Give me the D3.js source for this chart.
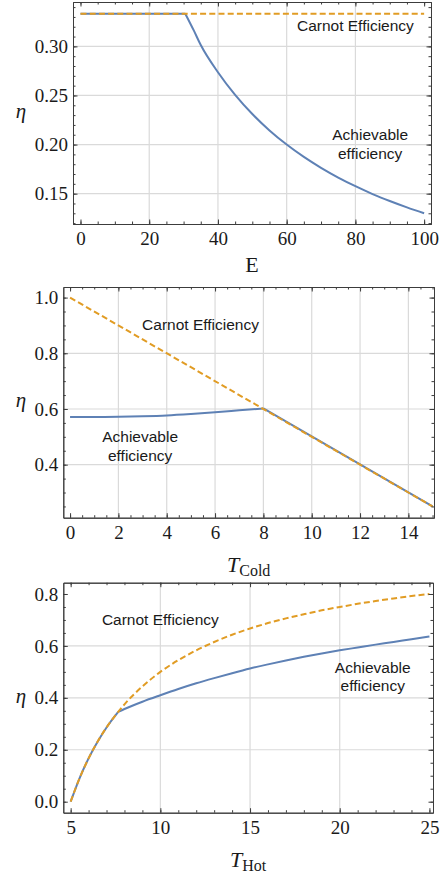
<!DOCTYPE html>
<html lang="en">
<head>
<meta charset="UTF-8">
<title>Efficiency</title>
<script src="https://d3js.org/d3.v7.min.js"></script>
<style>
  body{ margin:0; background:#fff; }
  path.line{ fill:none; stroke-width:2px; }
  path.achievable{ stroke:#5e81b5; }
  path.carnot{ stroke:#e19c24; stroke-dasharray:6,3.2; }
  .grid line{ stroke:#dadada; stroke-width:1.2px; }
  .frame path.domain{ stroke:#3c3c3c; stroke-width:1px; }
  .frame line{ stroke:#3c3c3c; stroke-width:1px; }
  text.note{ font-family:"Liberation Sans", Arial, sans-serif; font-size:15.5px; fill:#1a1a1a; text-anchor:middle; }
  text.lab{ font-family:"Liberation Serif", serif; fill:#1a1a1a; }
</style>
</head>
<body>
<svg width="440" height="878" viewBox="0 0 440 878"></svg>
<script>
// panel 1 : efficiency vs E
const p1_E = [0, 30.5, 33, 35, 40, 45, 50, 55, 60, 65, 70, 75, 80, 85, 90, 95, 100];
const p1_achievable = [0.3333, 0.3333, 0.316, 0.3014, 0.2737, 0.2506, 0.2311, 0.2144, 0.200, 0.1874, 0.1763, 0.1664, 0.1576, 0.1496, 0.1425, 0.136, 0.130];
const p1_carnotE = [0, 100];
const p1_carnot = [0.3333, 0.3333];
const p1_xTicks = [0, 20, 40, 60, 80, 100];
const p1_yTicks = [0.15, 0.20, 0.25, 0.30];

// panel 2 : efficiency vs T cold
const p2_Tc = [0, 1, 2, 3, 4, 5, 6, 7, 8, 15];
const p2_achievable = [0.571, 0.571, 0.572, 0.574, 0.577, 0.582, 0.588, 0.595, 0.602, 0.25];
const p2_carnotT = [0, 15];
const p2_carnot = [1.0, 0.25];
const p2_xTicks = [0, 2, 4, 6, 8, 10, 12, 14];
const p2_yTicks = [0.4, 0.6, 0.8, 1.0];

// panel 3 : efficiency vs T hot
const p3_Th = [5, 5.5, 6, 6.5, 7, 7.65, 8, 9, 10, 11, 12, 13, 14, 15, 16, 17, 18, 19, 20, 21, 22, 23, 24, 25];
const p3_carnot = [0, 0.091, 0.167, 0.231, 0.286, 0.346, 0.375, 0.444, 0.500, 0.545, 0.583, 0.615, 0.643, 0.667, 0.688, 0.706, 0.722, 0.737, 0.750, 0.762, 0.773, 0.783, 0.792, 0.800];
const p3_achievable = [0, 0.091, 0.167, 0.231, 0.286, 0.346, 0.357, 0.385, 0.410, 0.434, 0.456, 0.476, 0.495, 0.513, 0.529, 0.544, 0.558, 0.571, 0.583, 0.594, 0.605, 0.615, 0.626, 0.636];
const p3_xTicks = [5, 10, 15, 20, 25];
const p3_yTicks = [0.0, 0.2, 0.4, 0.6, 0.8];

let svg = d3.select('svg');

let panels = [
  { box:[73, 2, 431, 224], xDom:[-2.18, 102.0], yDom:[0.1191, 0.3452],
    ach:{x:p1_E, y:p1_achievable, kinks:[1]}, car:{x:p1_carnotE, y:p1_carnot},
    xTicks:p1_xTicks, yTicks:p1_yTicks, xGrid:[20,40,60,80], yGrid:[0.15,0.20,0.25,0.30],
    xMinor:d3.range(0, 101, 5), yMinor:d3.range(12, 35).map(d=>d/100), yFmt:d3.format('.2f'),
    carnotAt:[80, 0.3156], achAt:[84.3, 0.2043], xlab:'E', xsub:null },
  { box:[63.3, 287, 434, 517.7], xDom:[-0.28, 15.06], yDom:[0.2096, 1.038],
    ach:{x:p2_Tc, y:p2_achievable, kinks:[8]}, car:{x:p2_carnotT, y:p2_carnot},
    xTicks:p2_xTicks, yTicks:p2_yTicks, xGrid:[2,4,6,8,10,12,14], yGrid:[0.4,0.6,0.8],
    xMinor:d3.range(0, 15.1, 0.5), yMinor:d3.range(5, 21).map(d=>d/20), yFmt:d3.format('.1f'),
    carnotAt:[5.4, 0.884], achAt:[2.9, 0.48], xlab:'T', xsub:'Cold' },
  { box:[63.3, 582.7, 433, 812.7], xDom:[4.59, 25.2], yDom:[-0.0424, 0.8435],
    ach:{x:p3_Th, y:p3_achievable, kinks:[5]}, car:{x:p3_Th, y:p3_carnot},
    xTicks:p3_xTicks, yTicks:p3_yTicks, xGrid:[10,15,20], yGrid:[0.2,0.4,0.6],
    xMinor:d3.range(5, 26, 1), yMinor:d3.range(0, 17).map(d=>d/20), yFmt:d3.format('.1f'),
    carnotAt:[10, 0.682], achAt:[21.84, 0.4975], xlab:'T', xsub:'Hot' }
];

panels.forEach(function(p){
  let [x0, y0, x1, y1] = p.box;
  let xScale = d3.scaleLinear().domain(p.xDom).range([x0, x1]);
  let yScale = d3.scaleLinear().domain(p.yDom).range([y1, y0]);
  let g = svg.append('g');

  // grid
  let grid = g.append('g').attr('class','grid');
  grid.selectAll('line.gx').data(p.xGrid).join('line')
    .attr('class','gx')
    .attr('x1', d=>xScale(d)).attr('x2', d=>xScale(d)).attr('y1', y0).attr('y2', y1);
  grid.selectAll('line.gy').data(p.yGrid).join('line')
    .attr('class','gy')
    .attr('y1', d=>yScale(d)).attr('y2', d=>yScale(d)).attr('x1', x0).attr('x2', x1);

  // lines, split at kinks so the corners stay sharp
  let line = d3.line().x(d=>xScale(d[0])).y(d=>yScale(d[1])).curve(d3.curveMonotoneX);
  let pts = p.ach.x.map((v,i)=>[v, p.ach.y[i]]);
  let cuts = [0].concat(p.ach.kinks, [pts.length-1]);
  for (let i = 0; i < cuts.length-1; i++) {
    g.append('path').attr('class','line achievable')
      .attr('d', line(pts.slice(cuts[i], cuts[i+1]+1)));
  }
  let cpts = p.car.x.map((v,i)=>[v, p.car.y[i]]);
  g.append('path').attr('class','line carnot').attr('d', line(cpts));

  // frame with inward ticks on all sides
  let frame = g.append('g').attr('class','frame');
  let sides = [
    {mk:d3.axisBottom, s:xScale, t:`translate(0,${y1})`, maj:p.xTicks, min:p.xMinor, lab:true, fmt:d3.format('d'), pad:8},
    {mk:d3.axisTop, s:xScale, t:`translate(0,${y0})`, maj:p.xTicks, min:p.xMinor, lab:false},
    {mk:d3.axisLeft, s:yScale, t:`translate(${x0},0)`, maj:p.yTicks, min:p.yMinor, lab:true, fmt:p.yFmt, pad:5},
    {mk:d3.axisRight, s:yScale, t:`translate(${x1},0)`, maj:p.yTicks, min:p.yMinor, lab:false}
  ];
  sides.forEach(function(s){
    frame.append('g').attr('transform', s.t)
      .call(s.mk(s.s).tickValues(s.min).tickSizeInner(-2.5).tickSizeOuter(0).tickFormat(''));
    let ax = frame.append('g').attr('transform', s.t)
      .call(s.mk(s.s).tickValues(s.maj).tickSizeInner(-4.5).tickSizeOuter(0)
        .tickPadding(s.pad || 3).tickFormat(s.lab ? s.fmt : ''));
    ax.selectAll('text')
      .style('font-family', '"Liberation Serif", "Times New Roman", serif')
      .style('font-size', '19px')
      .style('fill', '#1a1a1a');
  });

  // annotations
  g.append('text').attr('class','note')
    .attr('x', xScale(p.carnotAt[0])).attr('y', yScale(p.carnotAt[1]))
    .text('Carnot Efficiency');
  let a = g.append('text').attr('class','note')
    .attr('x', xScale(p.achAt[0])).attr('y', yScale(p.achAt[1]));
  a.append('tspan').attr('x', xScale(p.achAt[0])).text('Achievable');
  a.append('tspan').attr('x', xScale(p.achAt[0])).attr('dy', 18.5).text('efficiency');

  // axis labels
  g.append('text').attr('class','lab')
    .attr('x', 21).attr('y', (y0+y1)/2 + 5)
    .attr('text-anchor','middle').style('font-size','21px').style('font-style','italic')
    .text('η');
  let xl = g.append('text').attr('class','lab')
    .attr('x', (x0+x1)/2).attr('y', y1 + (p.xsub ? 54 : 48))
    .attr('text-anchor','middle').style('font-size','22px');
  if (p.xsub) {
    xl.append('tspan').style('font-style','italic').text(p.xlab);
    xl.append('tspan').attr('dy', 4).style('font-size','16px').text(p.xsub);
  } else {
    xl.text(p.xlab);
  }
});
</script>
</body>
</html>
